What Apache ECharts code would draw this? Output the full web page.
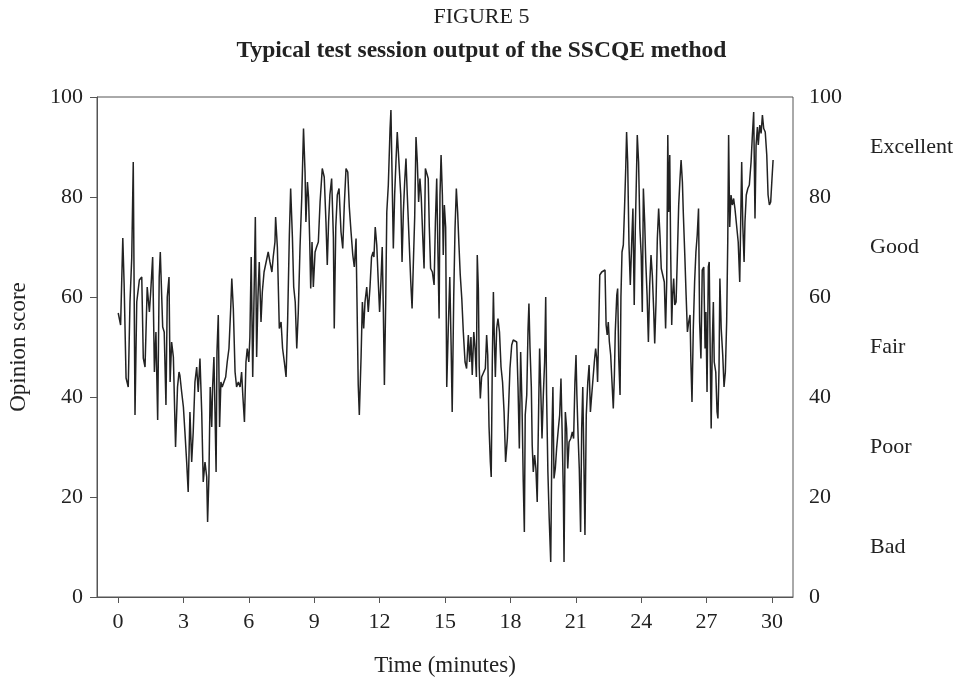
<!DOCTYPE html>
<html>
<head>
<meta charset="utf-8">
<script src="https://cdn.jsdelivr.net/npm/echarts@6/dist/echarts.min.js"></script>
<style>
html,body{margin:0;padding:0;background:#fff;}
#chart{width:963px;height:678px;}
</style>
</head>
<body>
<div id="chart"></div>
<script>
// Time (minutes) of each reading
var times = [
0.01,0.12,0.22,0.28,0.37,0.47,0.55,0.63,0.70,0.78,0.86,0.98,1.09,1.16,1.24,1.34,1.44,1.50,1.59,1.67,
1.74,1.82,1.89,1.94,2.05,2.12,2.20,2.26,2.34,2.39,2.46,2.54,2.64,2.73,2.80,2.84,2.92,3.00,3.07,3.15,
3.22,3.30,3.38,3.45,3.53,3.61,3.68,3.76,3.84,3.91,3.99,4.07,4.11,4.17,4.23,4.30,4.34,4.40,4.45,4.50,
4.54,4.60,4.66,4.72,4.78,4.86,4.94,5.01,5.09,5.17,5.22,5.29,5.37,5.44,5.52,5.60,5.67,5.73,5.80,5.87,
5.93,6.00,6.05,6.11,6.18,6.24,6.30,6.36,6.42,6.48,6.56,6.62,6.70,6.79,6.89,6.97,7.06,7.12,7.20,7.23,
7.31,7.40,7.48,7.55,7.63,7.71,7.78,7.86,7.92,8.00,8.06,8.13,8.20,8.27,8.35,8.43,8.51,8.58,8.62,8.69,
8.74,8.79,8.84,8.90,8.96,9.04,9.11,9.19,9.27,9.37,9.46,9.54,9.60,9.66,9.72,9.80,9.88,9.92,9.99,10.06,
10.14,10.23,10.31,10.38,10.46,10.54,10.61,10.69,10.77,10.84,10.92,10.96,11.02,11.07,11.15,11.21,11.27,11.33,11.41,11.48,
11.56,11.63,11.70,11.74,11.80,11.87,11.94,12.00,12.06,12.12,12.17,12.22,12.28,12.33,12.40,12.48,12.52,12.57,12.63,12.69,
12.75,12.81,12.90,12.97,13.03,13.09,13.15,13.21,13.27,13.35,13.43,13.49,13.55,13.61,13.67,13.73,13.79,13.85,13.91,13.98,
14.04,14.10,14.16,14.23,14.28,14.34,14.42,14.50,14.56,14.62,14.68,14.73,14.77,14.82,14.88,14.92,14.97,15.03,15.08,15.15,
15.22,15.28,15.33,15.40,15.46,15.52,15.58,15.64,15.70,15.77,15.84,15.92,15.99,16.07,16.13,16.19,16.25,16.32,16.38,16.44,
16.48,16.53,16.57,16.62,16.68,16.77,16.85,16.91,16.96,17.02,17.08,17.12,17.17,17.22,17.26,17.31,17.37,17.43,17.50,17.57,
17.64,17.71,17.78,17.86,17.92,17.98,18.06,18.13,18.21,18.29,18.35,18.41,18.47,18.53,18.59,18.64,18.68,18.75,18.81,18.85,
18.90,18.96,19.00,19.05,19.11,19.17,19.23,19.30,19.34,19.39,19.45,19.51,19.57,19.62,19.66,19.72,19.78,19.85,19.91,19.95,
20.00,20.06,20.12,20.20,20.26,20.32,20.37,20.43,20.46,20.52,20.58,20.63,20.69,20.77,20.84,20.90,20.96,21.01,21.05,21.11,
21.16,21.22,21.27,21.32,21.36,21.42,21.48,21.55,21.61,21.67,21.73,21.79,21.85,21.91,21.96,22.00,22.05,22.10,22.19,22.28,
22.34,22.39,22.44,22.49,22.54,22.60,22.66,22.72,22.77,22.81,22.88,22.92,22.97,23.03,23.07,23.12,23.18,23.24,23.29,23.33,
23.38,23.44,23.50,23.56,23.62,23.68,23.73,23.78,23.82,23.88,23.94,24.00,24.05,24.10,24.16,24.21,24.27,24.33,24.39,24.45,
24.51,24.57,24.62,24.68,24.74,24.80,24.86,24.92,24.99,25.06,25.12,25.17,25.22,25.26,25.31,25.35,25.40,25.44,25.49,25.54,
25.60,25.66,25.72,25.78,25.83,25.89,25.93,26.00,26.06,26.12,26.18,26.24,26.28,26.33,26.39,26.45,26.51,26.57,26.63,26.68,
26.74,26.80,26.87,26.93,26.97,27.02,27.08,27.12,27.17,27.21,27.26,27.31,27.35,27.42,27.48,27.52,27.57,27.61,27.67,27.74,
27.80,27.86,27.92,27.97,28.01,28.06,28.12,28.18,28.24,28.30,28.38,28.45,28.52,28.56,28.61,28.66,28.72,28.76,28.82,28.89,
28.96,29.04,29.10,29.16,29.22,29.27,29.33,29.37,29.44,29.50,29.56,29.62,29.69,29.76,29.82,29.88,29.94,30.00,30.05
];
// Opinion score at each reading
var scores = [
56.8,54.4,71.8,62.8,43.8,42,59,67.8,87,36.4,59,63.4,64,47.8,46,62,57,61,68,45,
53,35.4,64,69,54,53,38.4,60,64,43,51,48,30,42,45,44.3,41,38,33,27,
21,37,27,33,43,46,41,47.7,37,23,27,24,15,24,42,34,42,48,37,25,
49,56.4,34,43,42,42,44,47,49.7,57.7,63.7,57.7,45,42,43,42,45,40,35,47,
49.7,47,52,68,44,60,76,48,60,67,55,61,65,65,69,67,65,68,71,76,
70,53.7,55,49.7,47,44,55,72.4,81.7,72,62,59,49.7,57,70,80,93.7,85,75,83,
80,72,61.7,71,62,69,70,71,79,85.7,84,75,66.4,75,80.4,83.7,72,53.7,74,80.4,
81.7,73,69.7,78.4,85.7,85,78,73,68.4,66,71.7,60,42.4,36.4,48,59,53.7,59,62,57,
62,68,69,68,74,70.4,63,57,63,70,57.7,42.4,59,77,82.4,93.7,97.4,85,69.7,80.4,
87,93,93,80.4,67,77,83,87.7,80.4,71.7,63,57.7,67,76,92,87,79,83.7,80,72,
65.7,85.7,85.7,83.7,74,65.7,65,62.4,75,83.7,68,55.7,80.4,88.4,80.4,68.4,78.4,74,42,53.7,
64,50.4,37,60,73.7,81.7,77,70.4,64.4,59.7,53,47,45.7,52.4,47,52,44.4,53,49.7,44,
68.4,61.7,46,39.7,44,44.4,45.7,52.4,48.4,34,27,24,47,61,52.4,44,53.7,55.7,53,46,
43,37,27,31.7,38.4,45.7,50.4,51.4,51,51,42,29.7,49,39,23,13,36.4,40.4,53.7,58.7,
49.7,42,30.4,25,28.4,25.7,19,39,49.7,42,31.7,40.4,47,60,40.4,25,15.7,7,33.7,42,
23.7,25.7,29.7,33.7,36.4,43.7,33.7,20.4,7,37,33.7,25.7,31,31.7,33,31.7,43,48.4,40.4,31.7,
25.7,13,33.7,42,30.4,12.4,36.4,43,46.4,37,40.4,43.7,47,49.7,47.7,43,53.7,64.4,65,65.4,
65.4,54.4,52.4,55,51,48.4,43,37.7,44.4,53,60.4,61.7,47.7,40.4,60,69,70.4,78.4,85.7,93,
87,70.4,62.4,70.4,77.7,58.4,73.7,83.7,92.4,87,73.7,68.4,57,81.7,75,67,60.4,51,62.4,68.4,
64.4,57.7,50.7,59,71.7,77.7,72.4,65.7,65.7,63,53.7,63,92.4,77,88.4,69.7,54.4,60.4,63.7,58.4,
59,68.4,78.4,83.7,87.4,83,77,68.4,60.4,53,55,56.4,47,39,53.7,63,69,72.4,77.7,55,
47.7,65.4,66,49.7,57,41,66,67,47,33.7,50.4,59,47,45,37,35.7,45.7,63.7,53.7,48.4,
42,45,55,71,92.4,74,80.4,78.4,79.7,77.7,77.7,71,63,74,87,74.4,67,75,80.4,81.7,
82.4,87,92.4,97,75.7,90.4,94,90.4,94.4,92.7,96.4,93.7,93,88.4,80.4,78.4,79,83.7,87.4
];
var xTicks = [0, 3, 6, 9, 12, 15, 18, 21, 24, 27, 30];
var yTicks = [0, 20, 40, 60, 80, 100];
var qualityValues = [10, 30, 50, 70, 90];
var qualityLabels = ['Bad', 'Poor', 'Fair', 'Good', 'Excellent'];

var data = times.map(function (t, i) { return [t, scores[i]]; });

var font = '"Liberation Serif", "Times New Roman", serif';
var txt = '#222';
var axisCol = '#555';
var fs = 22;

var chart = echarts.init(document.getElementById('chart'), null, {renderer: 'canvas'});
chart.setOption({
  animation: false,
  backgroundColor: '#fff',
  title: [
    {text: 'FIGURE 5', left: 'center', top: 1,
     textStyle: {fontFamily: font, fontSize: fs, fontWeight: 'normal', color: txt}},
    {text: 'Typical test session output of the SSCQE method', left: 'center', top: 34,
     textStyle: {fontFamily: font, fontSize: 23.5, fontWeight: 'bold', color: txt}}
  ],
  grid: [
    {left: 97, right: 170, top: 97, bottom: 81, show: true, outerBoundsMode: 'none', containLabel: false,
     borderColor: axisCol, borderWidth: 1, backgroundColor: 'transparent'},
    {left: 118, right: 191, top: 97, bottom: 81, show: false, outerBoundsMode: 'none', containLabel: false}
  ],
  xAxis: [
    {gridIndex: 0, type: 'value', min: 0, max: 1,
     axisLine: {show: true, onZero: false, lineStyle: {color: axisCol}},
     axisTick: {show: false}, axisLabel: {show: false}, splitLine: {show: false}},
    {gridIndex: 1, type: 'value', min: 0, max: 30, interval: 3,
     name: 'Time (minutes)', nameLocation: 'middle', nameGap: 57,
     nameTextStyle: {fontFamily: font, fontSize: 23, color: txt},
     axisLine: {show: false, onZero: false},
     axisTick: {show: true, length: 6, lineStyle: {color: axisCol}},
     axisLabel: {fontFamily: font, fontSize: fs, color: txt, margin: 14},
     splitLine: {show: false}}
  ],
  yAxis: [
    {gridIndex: 0, type: 'value', min: 0, max: 100, interval: 20, position: 'left',
     name: 'Opinion score', nameLocation: 'middle', nameGap: 67, nameRotate: 90,
     nameTextStyle: {fontFamily: font, fontSize: 23, color: txt},
     axisLine: {show: true, onZero: false, lineStyle: {color: axisCol}},
     axisTick: {show: true, length: 7, lineStyle: {color: axisCol}},
     axisLabel: {fontFamily: font, fontSize: fs, color: txt, margin: 14},
     splitLine: {show: false}},
    {gridIndex: 0, type: 'value', min: 0, max: 100, interval: 20, position: 'right',
     axisLine: {show: false, onZero: false}, axisTick: {show: false},
     axisLabel: {fontFamily: font, fontSize: fs, color: txt, margin: 16},
     splitLine: {show: false}},
    {gridIndex: 0, type: 'value', min: 0, max: 100, position: 'right', offset: 77,
     axisLine: {show: false, onZero: false}, axisTick: {show: false},
     axisLabel: {customValues: qualityValues, fontFamily: font, fontSize: fs, color: txt, margin: 0,
       formatter: function (v) { var i = qualityValues.indexOf(v); return i >= 0 ? qualityLabels[i] : ''; }},
     splitLine: {show: false}},
    {gridIndex: 1, type: 'value', min: 0, max: 100, show: false}
  ],
  series: [{
    type: 'line', xAxisIndex: 1, yAxisIndex: 3, data: data, showSymbol: false, symbol: 'none',
    lineStyle: {color: '#222', width: 1.5}, z: 3
  }]
});
</script>
</body>
</html>
